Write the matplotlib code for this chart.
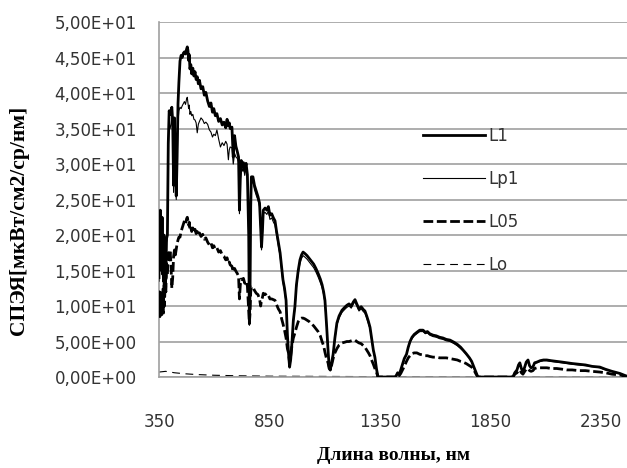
import numpy as np
import matplotlib
matplotlib.use("Agg")
from matplotlib import pyplot as plt
from matplotlib.ticker import FuncFormatter

# wavelength grid, nm
wl = [
    350, 352, 354, 356, 358, 360, 362, 364, 366, 368,
    370, 372, 375, 378, 381, 384, 388, 392, 396, 400,
    404, 408, 412, 416, 420, 424, 428, 432, 436, 440,
    445, 450, 455, 460, 465, 470, 475, 478, 481, 484,
    487, 490, 494, 498, 503, 508, 513, 518, 523, 528,
    533, 540, 548, 555, 562, 570, 578, 585, 592, 598,
    605, 612, 620, 628, 636, 644, 652, 658, 664, 668,
    672, 680, 686, 692, 698, 704, 710, 714, 718, 722,
    727, 732, 738, 744, 750, 756, 759, 762, 765, 768,
    775, 782, 790, 798, 805, 810, 814, 818, 822, 830,
    838, 845, 852, 860, 868, 875, 882, 890, 898, 905,
    911, 918, 925, 931, 936, 941, 946, 952, 958, 965,
    972, 980, 988, 995, 1002, 1010, 1020, 1030, 1040, 1050,
    1060, 1070, 1080, 1088, 1095, 1101, 1108, 1115, 1120, 1125,
    1130, 1138, 1146, 1155, 1165, 1178, 1190, 1200, 1210, 1220,
    1230, 1237, 1245, 1255, 1265, 1275, 1282, 1290, 1298, 1305,
    1312, 1320, 1327, 1334, 1341, 1380, 1420, 1430, 1437, 1444,
    1452, 1460, 1470, 1478, 1486, 1495, 1505, 1517, 1530, 1545,
    1555, 1565, 1575, 1590, 1605, 1620, 1635, 1650, 1667, 1685,
    1700, 1715, 1726, 1740, 1755, 1765, 1775, 1785, 1793, 1870,
    1952, 1960, 1970, 1977, 1983, 1990, 1997, 2005, 2012, 2020,
    2027, 2034, 2042, 2050, 2060, 2075, 2090, 2105, 2125, 2150,
    2175, 2196, 2220, 2250, 2280, 2310, 2345, 2370, 2400, 2436,
    2460, 2480,
]

L1 = [
    14.0, 22.0, 16.5, 23.5, 17.0, 21.5, 15.0, 22.5, 14.5, 19.0,
    13.5, 20.0, 15.5, 18.5, 14.0, 19.5, 20.0, 33.0, 37.5, 37.0,
    37.5, 38.0, 36.0, 27.0, 36.5, 29.0, 25.5, 31.0, 38.5, 41.5,
    44.5, 45.3, 45.0, 45.6, 45.8, 45.5, 46.2, 46.5, 46.0, 44.6,
    45.4, 43.4, 44.0, 42.7, 43.5, 42.4, 43.0, 41.9, 42.3, 41.3,
    41.8, 40.6, 40.9, 39.7, 40.1, 38.9, 38.1, 38.6, 37.3, 37.8,
    36.8, 37.1, 36.0, 36.4, 35.5, 35.9, 35.1, 36.3, 35.4, 35.8,
    35.0, 35.2, 31.0, 34.0, 32.5, 31.8, 31.0, 23.5, 28.0, 30.5,
    29.6, 30.2, 29.0, 30.1, 28.5, 20.0, 7.5, 12.0, 24.0, 28.2,
    28.2, 27.0, 26.2, 25.4, 24.5, 21.0, 18.3, 20.5, 23.5, 23.8,
    23.5, 24.0, 22.8, 23.0, 22.4, 22.0, 20.5, 19.0, 17.5, 15.5,
    13.7, 12.5, 10.8, 6.0, 3.4, 1.4, 2.5, 5.0, 8.0, 9.9,
    13.0, 15.0, 16.5, 17.2, 17.6, 17.4, 17.1, 16.7, 16.3, 15.9,
    15.3, 14.6, 13.8, 13.0, 12.0, 10.8, 7.5, 3.8, 1.5, 1.0,
    1.8, 3.2, 5.5, 7.6, 8.6, 9.4, 9.8, 10.1, 10.3, 10.0,
    10.6, 10.9, 10.3, 9.6, 9.9, 9.5, 9.3, 8.6, 7.8, 7.0,
    5.5, 3.8, 2.8, 1.2, 0.0, 0.0, 0.0, 0.6, 0.3, 1.0,
    1.8, 2.6, 3.2, 4.2, 5.0, 5.6, 6.0, 6.3, 6.6, 6.6,
    6.3, 6.4, 6.1, 5.9, 5.8, 5.6, 5.5, 5.3, 5.2, 4.9,
    4.6, 4.2, 3.8, 3.3, 2.7, 2.2, 1.4, 0.6, 0.0, 0.0,
    0.0, 0.6, 1.0, 1.7, 2.0, 1.2, 0.7, 1.4, 2.1, 2.4,
    1.6, 1.3, 1.4, 2.0, 2.1, 2.3, 2.4, 2.4, 2.3, 2.2,
    2.1, 2.0, 1.9, 1.8, 1.7, 1.5, 1.4, 1.1, 0.8, 0.5,
    0.2, 0.0,
]

Lp1 = [
    13.5, 21.5, 16.0, 23.0, 16.5, 21.0, 14.5, 22.0, 14.0, 18.5,
    13.0, 19.5, 15.0, 18.0, 13.5, 19.0, 19.5, 32.0, 36.0, 35.0,
    35.5, 36.5, 34.5, 26.0, 35.0, 28.0, 25.0, 30.0, 36.0, 37.5,
    38.0, 37.8, 38.2, 38.5, 38.8, 38.4, 39.2, 39.4, 38.6, 37.8,
    38.3, 37.0, 37.4, 36.8, 37.0, 36.3, 36.2, 35.8, 34.4, 35.6,
    36.0, 36.5, 36.2, 35.7, 35.9, 35.6, 34.8, 34.5, 33.8, 34.2,
    34.0, 34.8, 33.5, 32.4, 33.0, 32.6, 33.2, 32.8, 30.6, 32.0,
    32.4, 32.3, 30.0, 31.5, 31.0, 30.8, 30.3, 23.0, 27.5, 29.8,
    29.0, 29.6, 28.4, 29.5, 28.0, 19.5, 7.3, 11.6, 23.4, 27.6,
    27.6, 26.4, 25.6, 24.9, 24.0, 20.5, 17.9, 20.0, 23.0, 23.2,
    22.9, 23.4, 22.2, 22.4, 21.8, 21.4, 20.0, 18.5, 17.0, 15.0,
    13.3, 12.1, 10.5, 5.8, 3.3, 1.3, 2.4, 4.8, 7.7, 9.6,
    12.6, 14.6, 16.0, 16.7, 17.1, 16.9, 16.6, 16.2, 15.8, 15.4,
    14.8, 14.1, 13.3, 12.6, 11.6, 10.4, 7.2, 3.6, 1.4, 0.9,
    1.7, 3.0, 5.3, 7.3, 8.3, 9.1, 9.5, 9.8, 10.0, 9.7,
    10.3, 10.6, 10.0, 9.3, 9.6, 9.2, 9.0, 8.3, 7.5, 6.8,
    5.3, 3.6, 2.7, 1.1, 0.0, 0.0, 0.0, 0.6, 0.3, 1.0,
    1.7, 2.5, 3.1, 4.1, 4.9, 5.4, 5.8, 6.1, 6.4, 6.4,
    6.1, 6.2, 5.9, 5.7, 5.6, 5.4, 5.3, 5.1, 5.0, 4.7,
    4.4, 4.0, 3.7, 3.2, 2.6, 2.1, 1.3, 0.6, 0.0, 0.0,
    0.0, 0.6, 1.0, 1.6, 1.9, 1.2, 0.7, 1.3, 2.0, 2.3,
    1.5, 1.3, 1.4, 1.9, 2.0, 2.2, 2.3, 2.3, 2.2, 2.1,
    2.0, 1.9, 1.8, 1.7, 1.6, 1.5, 1.3, 1.0, 0.8, 0.5,
    0.2, 0.0,
]

L05 = [
    9.5, 12.0, 8.5, 11.5, 9.0, 12.2, 8.6, 11.0, 9.2, 12.5,
    9.0, 13.0, 10.0, 14.5, 12.0, 16.0, 14.5, 17.5, 16.5, 17.9,
    16.0, 12.5, 14.0, 17.0, 17.9, 17.2, 18.0, 18.8, 19.3, 19.7,
    19.7, 20.5, 21.0, 21.5, 22.0, 21.6, 22.3, 22.5, 22.0, 21.4,
    21.8, 20.7, 21.0, 20.5, 21.0, 20.4, 20.8, 20.2, 20.5, 20.0,
    20.3, 19.8, 20.1, 19.4, 19.6, 19.0, 18.6, 18.9, 18.2, 18.5,
    18.0, 18.2, 17.6, 17.8, 17.2, 17.0, 16.5, 16.8, 16.0, 16.2,
    15.8, 15.6, 14.8, 15.3, 14.9, 14.6, 14.2, 11.0, 13.0, 13.8,
    13.7, 13.9, 13.2, 13.5, 12.8, 9.5, 7.6, 9.0, 12.0, 12.7,
    12.7, 12.2, 11.8, 11.6, 11.0, 10.0, 10.8, 11.2, 11.8, 11.6,
    11.8, 11.5, 11.0, 11.0, 10.9, 10.8, 10.2, 9.6, 9.2, 8.2,
    7.5, 6.6, 5.5, 4.0, 3.4, 2.0, 3.0, 4.5, 5.5, 6.2,
    7.0, 7.8, 8.2, 8.3, 8.3, 8.2, 8.0, 7.8, 7.5, 7.2,
    6.8, 6.4, 5.8, 5.0, 4.4, 3.5, 2.6, 2.0, 1.2, 1.0,
    1.5, 2.6, 3.4, 4.0, 4.5, 4.8, 4.9, 5.0, 5.0, 5.1,
    5.2, 5.2, 5.0, 4.8, 4.7, 4.4, 4.2, 3.8, 3.4, 3.0,
    2.4, 1.8, 1.2, 0.7, 0.0, 0.0, 0.0, 0.3, 0.2, 0.5,
    1.0, 1.5, 2.2, 2.7, 3.0, 3.3, 3.4, 3.4, 3.2, 3.1,
    3.0, 3.0, 2.9, 2.8, 2.8, 2.7, 2.7, 2.7, 2.6, 2.5,
    2.4, 2.2, 2.1, 1.9, 1.6, 1.4, 1.0, 0.4, 0.0, 0.0,
    0.0, 0.4, 0.6, 0.9, 1.0, 0.6, 0.4, 0.8, 1.1, 1.2,
    0.9, 0.8, 0.9, 1.2, 1.3, 1.3, 1.3, 1.3, 1.2, 1.2,
    1.1, 1.0, 1.0, 0.9, 0.9, 0.8, 0.7, 0.6, 0.4, 0.3,
    0.1, 0.0,
]

wl_lo = [350, 380, 420, 470, 520, 600, 700, 850, 1000, 1300, 1800, 2480]
Lo = [0.7, 0.8, 0.6, 0.45, 0.35, 0.25, 0.18, 0.12, 0.1, 0.06, 0.04, 0.02]

x_ticks = [350, 850, 1350, 1850, 2350]
y_ticks = np.arange(0, 55, 5)

fig = plt.figure(figsize=(6.27, 4.68), dpi=100)
ax = fig.add_axes([0.2536, 0.1944, 0.7464, 0.7585])

ax.plot(wl, L1, color='black', lw=2.0, label='L1', zorder=5)
ax.plot(wl, Lp1, color='black', lw=0.8, label='Lp1', zorder=4)
ax.plot(wl, L05, color='black', lw=2.0, dashes=(3.5, 1.3), label='L05', zorder=3)
ax.plot(wl_lo, Lo, color='black', lw=0.8, dashes=(7, 5), label='Lo', zorder=2)

ax.set_xlim(350, 2468)
ax.set_ylim(0, 50)
ax.set_xticks(x_ticks)
ax.set_yticks(y_ticks)
ax.yaxis.set_major_formatter(FuncFormatter(lambda v, p: f"{v:.2E}".replace('.', ',')))

ax.grid(axis='y', color='#a0a0a0', lw=1.2)
ax.set_axisbelow(True)
for s in ['top', 'right']:
    ax.spines[s].set_visible(False)
for s in ['left', 'bottom']:
    ax.spines[s].set_color('#a0a0a0')
    ax.spines[s].set_linewidth(1.2)

ax.tick_params(axis='both', length=0, labelsize=12, labelcolor='#333333')
ax.tick_params(axis='x', pad=26)
ax.tick_params(axis='y', pad=16)

ax.set_xlabel('Длина волны, нм', family='Liberation Serif', weight='bold',
              fontsize=14, va='top')
ax.xaxis.set_label_coords(0.5, -0.196)
ax.set_ylabel('СПЭЯ[мкВт/см2/ср/нм]', family='Liberation Serif', weight='bold',
              fontsize=15.5, va='bottom')
ax.yaxis.set_label_coords(-0.278, 0.44)

leg = ax.legend(loc='center left', bbox_to_anchor=(0.546, 0.497), frameon=False,
                fontsize=12, handlelength=3.7, handletextpad=0.25,
                labelspacing=1.5, borderpad=0)
for t in leg.get_texts():
    t.set_color('#333333')

fig.savefig('out.png', dpi=100)
